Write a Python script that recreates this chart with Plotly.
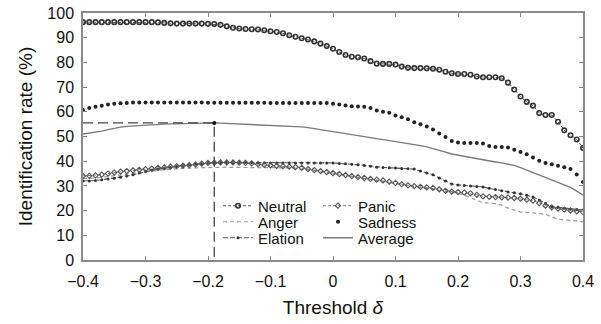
import numpy as np
import plotly.graph_objects as go

thresholds = [round(-0.40 + 0.01 * i, 2) for i in range(81)]

neutral = [96.3, 96.3, 96.3, 96.3, 96.3, 96.3, 96.3, 96.3, 96.3, 96.3,
           96.3, 96.3, 96.2, 96.0, 95.8, 95.7, 95.7, 95.7, 95.7, 95.7,
           95.6, 95.5, 95.2, 94.6, 94.0, 93.7, 93.5, 93.4, 93.3, 93.0,
           92.6, 92.3, 91.8, 91.0, 90.4, 89.8, 89.3, 88.5, 87.6, 86.6,
           85.5, 84.2, 83.0, 82.3, 82.1, 81.6, 80.5, 79.5, 79.4, 79.4,
           79.1, 78.3, 77.8, 77.7, 77.7, 77.6, 77.4, 77.0, 76.2, 75.6,
           75.3, 75.3, 75.0, 74.3, 74.0, 74.0, 74.0, 73.6, 71.8, 69.0,
           66.2, 64.0, 62.5, 59.5, 58.7, 58.7, 56.0, 52.5, 50.5, 48.8,
           45.3]

anger = [33.0, 33.0, 33.2, 33.5, 33.8, 34.2, 34.6, 35.0, 35.3, 35.6,
         35.9, 36.2, 36.4, 36.6, 36.8, 37.0, 37.1, 37.2, 37.3, 37.4,
         37.5, 37.5, 37.5, 37.5, 37.5, 37.5, 37.5, 37.5, 37.5, 37.5,
         37.5, 37.5, 37.4, 37.3, 37.1, 36.9, 36.6, 36.2, 35.8, 35.4,
         35.0, 34.6, 34.2, 33.8, 33.4, 33.0, 32.6, 32.2, 31.8, 31.4,
         31.0, 30.6, 30.2, 29.8, 29.4, 29.0, 28.6, 28.2, 27.8, 27.4,
         27.0, 26.2, 25.2, 24.2, 23.2, 23.0, 22.8, 22.2, 21.0, 20.2,
         19.4, 19.3, 19.2, 18.8, 18.5, 17.5, 16.5, 16.3, 16.2, 15.8,
         15.4]

elation = [32.0, 32.0, 32.2, 32.5, 32.8, 33.1, 33.5, 34.0, 34.5, 35.2,
           35.8, 36.3, 36.8, 37.2, 37.5, 37.9, 38.3, 38.5, 38.8, 39.0,
           39.3, 39.4, 39.5, 39.5, 39.5, 39.5, 39.5, 39.4, 39.4, 39.4,
           39.3, 39.3, 39.3, 39.3, 39.3, 39.3, 39.3, 39.3, 39.3, 39.3,
           39.3, 39.1, 39.0, 38.8, 38.6, 38.3, 38.0, 37.6, 37.4, 37.3,
           37.2, 37.0, 36.9, 36.8, 36.0, 35.2, 34.5, 33.2, 32.0, 30.8,
           30.4, 30.2, 30.0, 29.8, 29.6, 29.0, 28.5, 28.0, 27.5, 27.2,
           26.8, 26.2, 25.5, 24.3, 23.0, 21.5, 21.3, 21.0, 20.6, 20.4,
           20.2]

panic = [34.0, 34.1, 34.3, 34.6, 35.0, 35.4, 35.8, 36.0, 36.3, 36.5,
         36.8, 37.0, 37.3, 37.5, 37.8, 38.0, 38.2, 38.4, 38.7, 39.0,
         39.3, 39.4, 39.5, 39.5, 39.5, 39.4, 39.3, 39.1, 38.8, 38.5,
         38.3, 38.1, 38.0, 37.8, 37.6, 37.3, 36.8, 36.4, 36.0, 35.6,
         35.2, 34.8, 34.4, 34.0, 33.6, 33.2, 32.8, 32.5, 32.2, 31.7,
         31.2, 30.7, 30.2, 29.9, 29.6, 29.4, 29.2, 28.6, 28.0, 27.7,
         27.5, 27.3, 27.0, 26.4, 25.8, 25.6, 25.5, 25.4, 25.3, 25.1,
         24.8, 24.4, 24.0, 23.0, 22.0, 21.3, 20.8, 20.4, 20.0, 19.7,
         19.4]

sadness = [60.7, 61.5, 62.0, 62.5, 63.0, 63.3, 63.5, 63.6, 63.8, 63.8,
           63.8, 63.8, 63.8, 63.8, 63.8, 63.8, 63.8, 63.8, 63.8, 63.8,
           63.7, 63.7, 63.7, 63.7, 63.7, 63.7, 63.7, 63.7, 63.7, 63.7,
           63.6, 63.6, 63.6, 63.6, 63.6, 63.6, 63.6, 63.6, 63.6, 63.6,
           63.3, 63.0, 62.6, 62.2, 62.1, 62.0, 61.5, 60.5, 60.0, 59.6,
           58.5, 57.8, 57.0, 55.8, 55.0, 54.0, 52.8, 51.2, 49.8, 48.2,
           47.6, 47.4, 47.4, 47.4, 47.2, 46.2, 45.7, 45.7, 45.5, 44.6,
           43.7, 42.8, 41.5, 40.2, 39.3, 38.8, 38.2, 37.6, 36.8, 34.6,
           31.6]

average = [51.0, 51.3, 51.6, 52.2, 52.8, 53.4, 53.8, 54.1, 54.3, 54.5,
           54.6, 54.8, 54.9, 55.0, 55.1, 55.2, 55.3, 55.3, 55.4, 55.4,
           55.45, 55.5, 55.4, 55.3, 55.2, 55.1, 55.0, 54.9, 54.8, 54.7,
           54.6, 54.5, 54.4, 54.3, 54.1, 53.9, 53.6, 53.2, 52.8, 52.4,
           52.0, 51.7, 51.4, 51.0, 50.6, 50.1, 49.6, 49.1, 48.7, 48.3,
           48.0, 47.6, 47.2, 46.8, 46.3, 45.8, 45.2, 44.5, 43.7, 42.9,
           42.4, 41.9, 41.4, 40.9, 40.5, 40.1, 39.7, 39.3, 38.9, 38.3,
           37.4, 36.4, 35.5, 34.6, 33.6, 32.6, 31.6, 30.6, 29.4, 27.9,
           26.3]

x_ticks = [-0.4, -0.3, -0.2, -0.1, 0, 0.1, 0.2, 0.3, 0.4]
x_tick_text = ["\u22120.4", "\u22120.3", "\u22120.2", "\u22120.1", "0", "0.1", "0.2", "0.3", "0.4"]
y_ticks = list(range(0, 101, 10))

FONT = "Liberation Sans, Arial, sans-serif"

fig = go.Figure()

fig.add_trace(go.Scatter(
    x=thresholds, y=neutral, name="Neutral", mode="lines+markers", legend="legend",
    line=dict(color="#555555", width=1, dash="3px,2px"),
    marker=dict(symbol="circle-open", size=4.5, color="#333333", line=dict(width=1.6, color="#333333"))))
fig.add_trace(go.Scatter(
    x=thresholds, y=anger, name="Anger", mode="lines", legend="legend2",
    line=dict(color="#9a9a9a", width=1.2, dash="4px,3px")))
fig.add_trace(go.Scatter(
    x=thresholds, y=elation, name="Elation", mode="lines+markers", legend="legend3",
    line=dict(color="#555555", width=1.1, dash="5px,2px"),
    marker=dict(symbol="circle", size=3, color="#333333")))
fig.add_trace(go.Scatter(
    x=thresholds, y=panic, name="Panic", mode="lines+markers", legend="legend4",
    line=dict(color="#777777", width=1, dash="3px,2px"),
    marker=dict(symbol="diamond-open", size=4, color="#555555", line=dict(width=1.1, color="#555555"))))
fig.add_trace(go.Scatter(
    x=thresholds, y=sadness, name="Sadness", mode="markers", legend="legend5",
    marker=dict(symbol="circle", size=4, color="#222222")))
fig.add_trace(go.Scatter(
    x=thresholds, y=average, name="Average", mode="lines", legend="legend6",
    line=dict(color="#7a7a7a", width=1.4)))

# peak of the average curve, with dashed guide lines
peak_i = int(np.argmax(average))
px, py = thresholds[peak_i], average[peak_i]
fig.add_trace(go.Scatter(
    x=[thresholds[0], px, px], y=[py, py, 0], mode="lines", showlegend=False,
    line=dict(color="#444444", width=1.3, dash="10px,5px"), hoverinfo="skip"))
fig.add_trace(go.Scatter(
    x=[px], y=[py], mode="markers", showlegend=False,
    marker=dict(symbol="circle", size=4, color="#111111"), hoverinfo="skip"))

axis_common = dict(
    showgrid=False, zeroline=False, showline=True, linecolor="#8a8a8a", linewidth=1.5,
    mirror="ticks", ticks="inside", ticklen=4, tickcolor="#8a8a8a", tickwidth=1.2,
    automargin=False,
    tickfont=dict(family=FONT, size=16, color="#111111"),
)

def leg(xp, yp):
    return dict(x=xp, y=yp, xanchor="left", yanchor="middle", bgcolor="rgba(0,0,0,0)",
                font=dict(family=FONT, size=15, color="#111111"), itemwidth=30)

col1_x, col2_x = 0.27, 0.47
row_y = [0.2187, 0.1539, 0.0891]

fig.update_layout(
    width=601, height=324,
    margin=dict(l=83, r=18, t=13, b=64),
    paper_bgcolor="white", plot_bgcolor="white",
    font=dict(family=FONT, color="#111111"),
    xaxis=dict(range=[-0.4, 0.4], tickvals=x_ticks, ticktext=x_tick_text, ticklabelstandoff=6,
               title=dict(text="Threshold <i>δ</i>", font=dict(family=FONT, size=19), standoff=12),
               **axis_common),
    yaxis=dict(range=[0, 100], tickvals=y_ticks, ticklabelstandoff=4,
               title=dict(text="Identification rate (%)", font=dict(family=FONT, size=19), standoff=10),
               **axis_common),
    legend=leg(col1_x, row_y[0]),
    legend2=leg(col1_x, row_y[1]),
    legend3=leg(col1_x, row_y[2]),
    legend4=leg(col2_x, row_y[0]),
    legend5=leg(col2_x, row_y[1]),
    legend6=leg(col2_x, row_y[2]),
    showlegend=True,
)

fig.write_html("out.html")
